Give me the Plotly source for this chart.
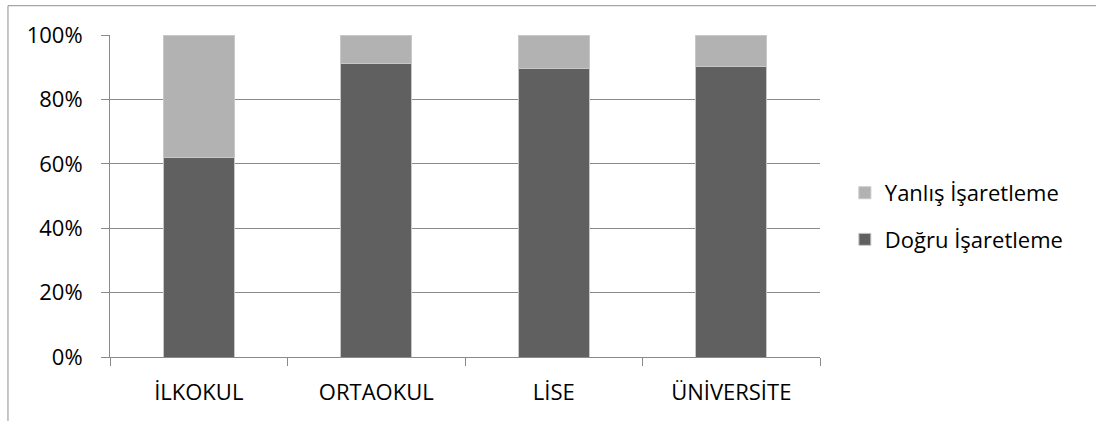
import plotly.graph_objects as go

categories = ["İLKOKUL", "ORTAOKUL", "LİSE", "ÜNİVERSİTE"]
dogru = [0.619, 0.910, 0.897, 0.902]
yanlis = [round(1 - v, 3) for v in dogru]
series_names = ["Doğru İşaretleme", "Yanlış İşaretleme"]
ytick_vals = [0, 0.2, 0.4, 0.6, 0.8, 1.0]
ytick_text = ["0%", "20%", "40%", "60%", "80%", "100%"]

FONT = "Open Sans"
fig = go.Figure()
fig.add_trace(go.Bar(x=categories, y=dogru, name=series_names[0], legendgroup="a",
                     legendrank=2,
                     marker=dict(color="#606060", line=dict(color="#c8c8c8", width=1))))
fig.add_trace(go.Bar(x=categories, y=yanlis, name=series_names[1], legendgroup="b",
                     legendrank=1,
                     marker=dict(color="#b2b2b2", line=dict(color="#c8c8c8", width=1))))

border = dict(color="#8f8f8f", width=1)
fig.update_layout(
    barmode="stack",
    bargap=0.6,
    width=1096, height=421,
    margin=dict(l=110, r=276, t=34.5, b=63.5, pad=0),
    plot_bgcolor="white", paper_bgcolor="white",
    font=dict(family=FONT, size=22, color="#000000"),
    legend=dict(x=1.035, xanchor="left", y=0.4365, yanchor="middle",
                traceorder="grouped", tracegroupgap=15,
                font=dict(family=FONT, size=22, color="#000000"),
                bgcolor="rgba(0,0,0,0)"),
    shapes=[
        dict(type="line", xref="paper", yref="paper", x0=-0.1437, x1=-0.1437,
             y0=-0.3, y1=1.091, line=border),
        dict(type="line", xref="paper", yref="paper", x0=-0.1437, x1=1.40,
             y0=1.091, y1=1.091, line=border),
    ],
)
fig.update_yaxes(range=[0, 1], tickvals=ytick_vals, ticktext=ytick_text,
                 showgrid=True, gridcolor="#8a8a8a", gridwidth=1,
                 showline=True, linecolor="#8a8a8a", linewidth=1,
                 ticks="outside", ticklen=8, tickcolor="#8a8a8a",
                 ticklabelstandoff=14, zeroline=False)
fig.update_xaxes(showline=True, linecolor="#8a8a8a", linewidth=1,
                 ticks="outside", ticklen=8, tickcolor="#8a8a8a",
                 tickson="boundaries", ticklabelstandoff=16, showgrid=False)

fig.write_html("out.html", config={"displayModeBar": False},
               post_script="document.body.style.margin='0';")
